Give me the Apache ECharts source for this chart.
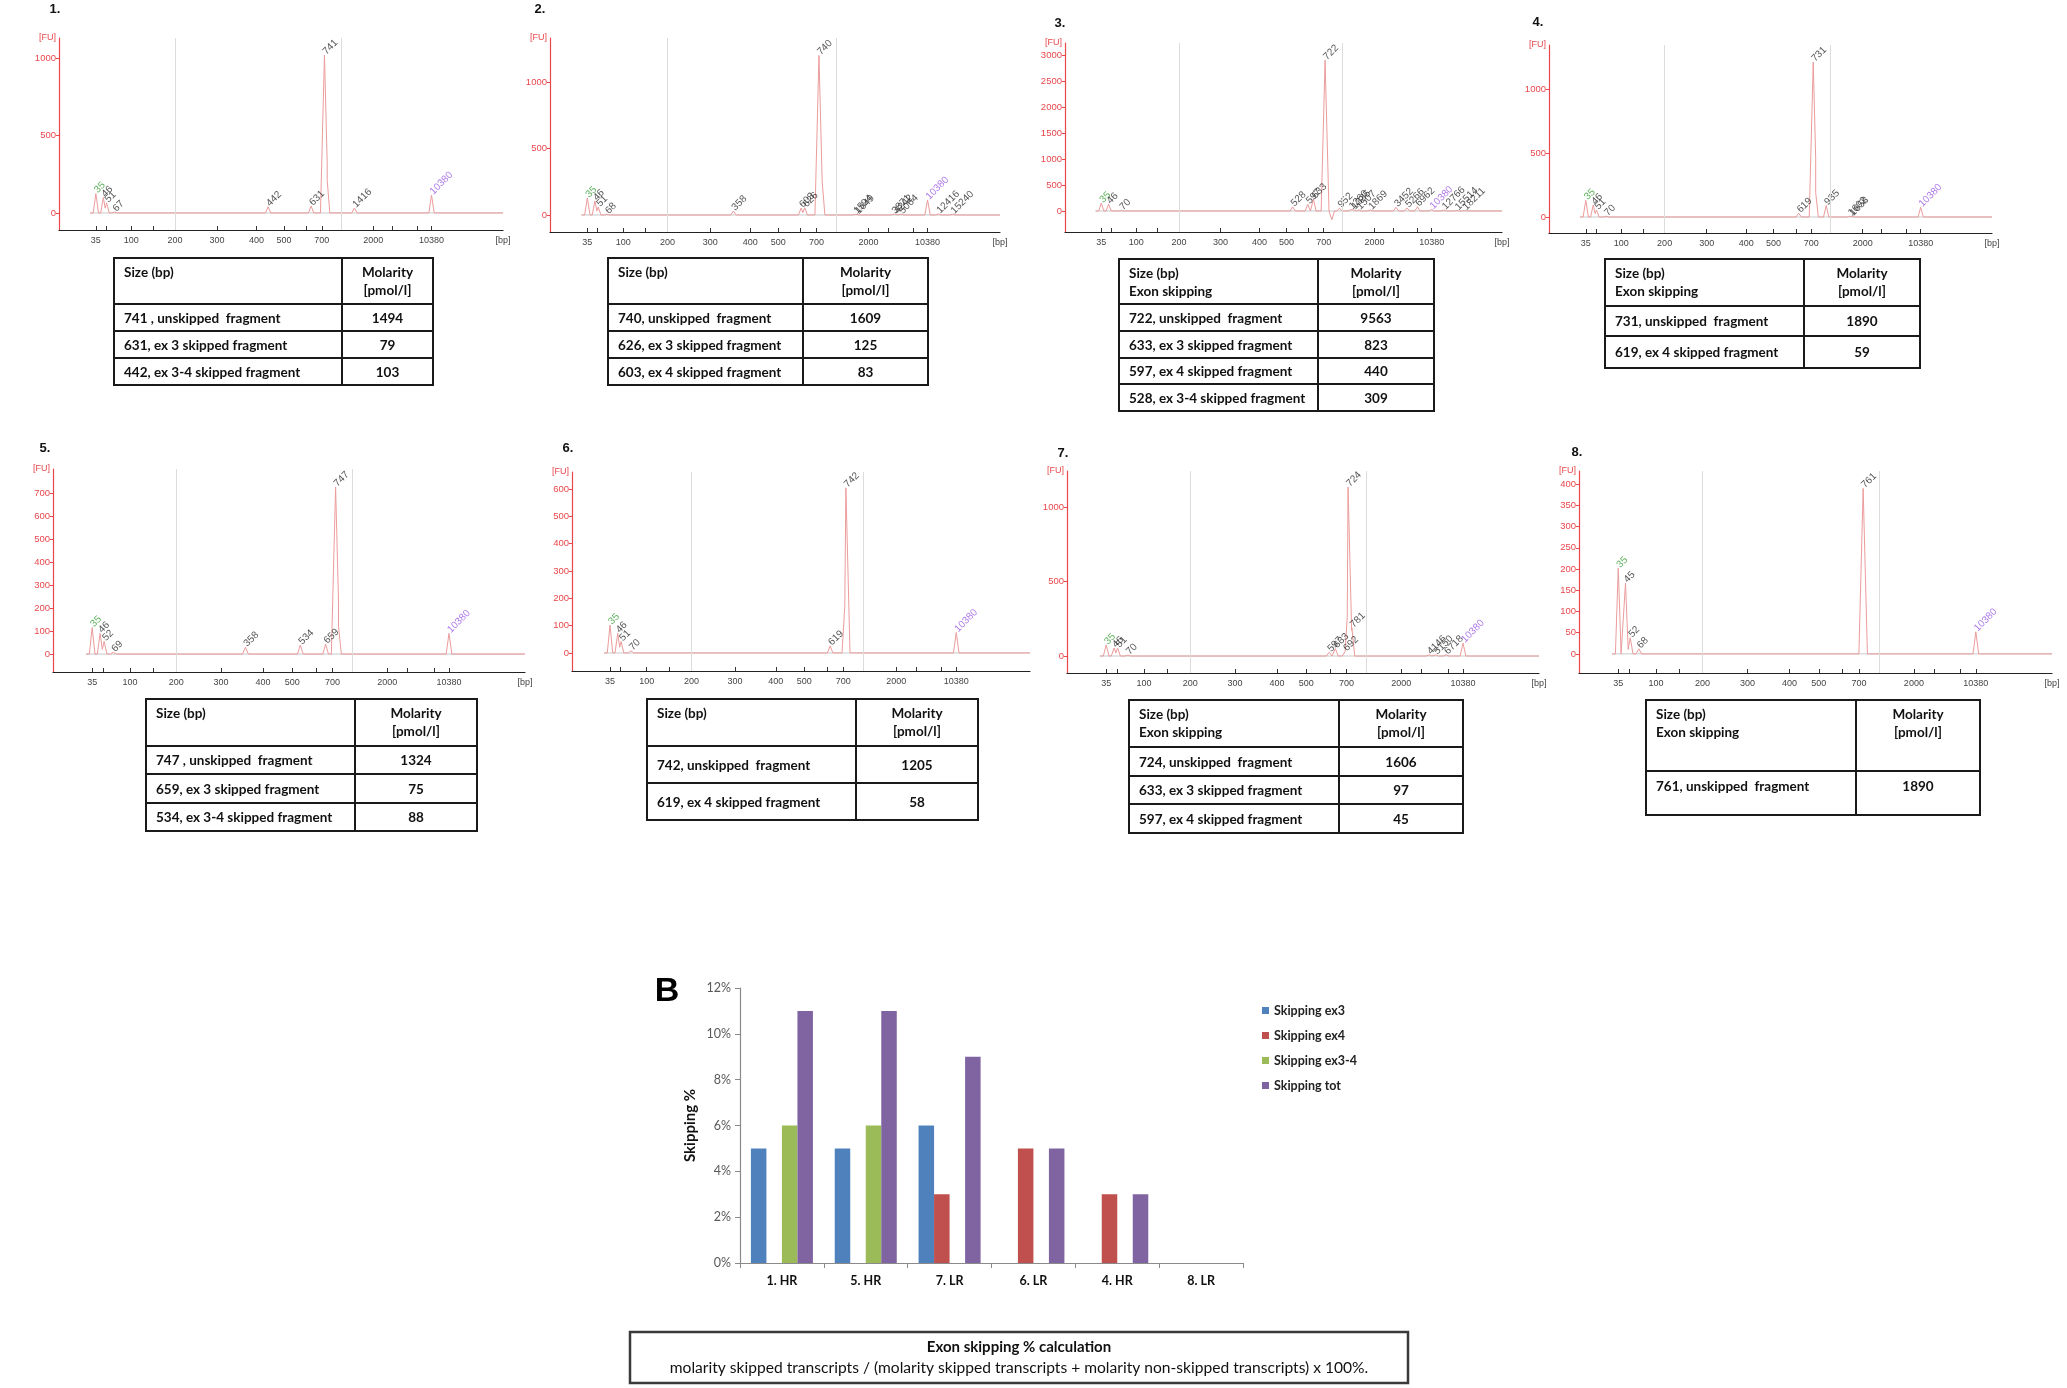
<!DOCTYPE html>
<html><head><meta charset="utf-8">
<script src="https://cdn.jsdelivr.net/npm/echarts@6/dist/echarts.min.js"></script>
<style>
html,body{margin:0;padding:0;background:#fff;}
#wrap{position:relative;width:2067px;height:1388px;overflow:hidden;}
#chart{position:absolute;left:0;top:0;width:2067px;height:1388px;}
.tbl{position:absolute;border-collapse:collapse;font-family:Lato,'Noto Sans',sans-serif;font-weight:bold;font-size:13.5px;color:#111;table-layout:fixed;}
.tbl td{border:2px solid #1a1a1a;padding:0 0 0 9px;white-space:pre;vertical-align:middle;line-height:16px;}
.tbl td.v{text-align:center;padding:0;}
.tbl tr.h td{vertical-align:top;padding-top:4px;line-height:18px;}
.tbl.top td{vertical-align:top;padding-top:6px;}
</style></head>
<body><div id="wrap"><div id="chart"></div></div>
<script>
// ---------- electropherogram ladder (size in bp -> migration position 0..100) ----------
const LADDER_BP  = [35, 50, 100, 150, 200, 300, 400, 500, 600, 700, 1000, 2000, 3000, 7000, 10380, 15000, 20000];
const LADDER_POS = [8.3, 10.6, 16.3, 21.2, 26.1, 35.6, 44.5, 50.7, 55.7, 59.2, 63.5, 70.8, 75.1, 80.7, 83.9, 89.3, 92.6];
const X_LABEL_BP = [35, 100, 200, 300, 400, 500, 700, 2000, 10380];
const X_TICK_BP  = [35, 50, 100, 150, 200, 300, 400, 500, 600, 700, 1000, 2000, 3000, 7000, 10380];
const X_GRID_BP  = [200, 1000];

// ---------- peaks: [size bp, height FU, label] ----------
const peaks1 = [[35,125,'35'],[46,100,'46'],[51,65,'51'],[67,6,'67'],[442,40,'442'],[631,45,'631'],[741,1020,'741'],[784,210,''],[1416,32,'1416'],[10380,116,'10380']];
const peaks2 = [[35,128,'35'],[46,105,'46'],[51,60,'51'],[68,6,'68'],[358,30,'358'],[603,52,'603'],[626,55,'626'],[740,1200,'740'],[790,250,''],[1594,5,'1594'],[1649,5,'1649'],[3871,6,'3871'],[4242,6,'4242'],[5064,6,'5064'],[10380,113,'10380'],[12416,8,'12416'],[15240,6,'15240']];
const peaks3 = [[35,150,'35'],[46,130,'46'],[70,10,'70'],[528,80,'528'],[597,130,'597'],[633,230,'633'],[722,2900,'722'],[830,-170,''],[952,55,'952'],[1260,25,'1260'],[1335,25,'1335'],[1507,20,'1507'],[1869,20,'1869'],[3452,70,'3452'],[5266,60,'5266'],[6962,80,'6962'],[10380,30,'10380'],[12766,20,'12766'],[15514,10,'15514'],[18211,10,'18211']];
const peaks4 = [[35,130,'35'],[46,94,'46'],[51,55,'51'],[70,6,'70'],[619,30,'619'],[731,1210,'731'],[770,190,''],[935,90,'935'],[1602,6,'1602'],[1658,6,'1658'],[10380,75,'10380']];
const peaks5 = [[35,115,'35'],[46,90,'46'],[52,55,'52'],[69,8,'69'],[358,30,'358'],[534,39,'534'],[659,43,'659'],[747,726,'747'],[790,120,''],[10380,90,'10380']];
const peaks6 = [[35,102,'35'],[46,72,'46'],[51,42,'51'],[70,8,'70'],[619,26,'619'],[725,170,''],[742,604,'742'],[10380,75,'10380']];
const peaks7 = [[35,74,'35'],[46,54,'46'],[51,54,'51'],[70,6,'70'],[597,25,'597'],[633,50,'633'],[692,30,'692'],[712,260,''],[724,1134,'724'],[781,188,'781'],[4146,8,'4146'],[5150,8,'5150'],[6718,8,'6718'],[10380,87,'10380']];
const peaks8 = [[35,202,'35'],[45,167,'45'],[52,38,'52'],[68,12,'68'],[761,390,'761'],[10380,52,'10380']];
const PEAKS = [peaks1, peaks2, peaks3, peaks4, peaks5, peaks6, peaks7, peaks8];

// y tick labels per panel
const yTicks1 = [0,500,1000];
const yTicks2 = [0,500,1000];
const yTicks3 = [0,500,1000,1500,2000,2500,3000];
const yTicks4 = [0,500,1000];
const yTicks5 = [0,100,200,300,400,500,600,700];
const yTicks6 = [0,100,200,300,400,500,600];
const yTicks7 = [0,500,1000];
const yTicks8 = [0,50,100,150,200,250,300,350,400];
const Y_TICKS = [yTicks1,yTicks2,yTicks3,yTicks4,yTicks5,yTicks6,yTicks7,yTicks8];

// ---------- tables ----------
const HEAD_SIZE = ['Size (bp)'];
const HEAD_SIZE_EXON = ['Size (bp)', 'Exon skipping'];
const HEAD_MOLARITY = ['Molarity', '[pmol/l]'];
const table1 = [['741 , unskipped  fragment','1494'],['631, ex 3 skipped fragment','79'],['442, ex 3-4 skipped fragment','103']];
const table2 = [['740, unskipped  fragment','1609'],['626, ex 3 skipped fragment','125'],['603, ex 4 skipped fragment','83']];
const table3 = [['722, unskipped  fragment','9563'],['633, ex 3 skipped fragment','823'],['597, ex 4 skipped fragment','440'],['528, ex 3-4 skipped fragment','309']];
const table4 = [['731, unskipped  fragment','1890'],['619, ex 4 skipped fragment','59']];
const table5 = [['747 , unskipped  fragment','1324'],['659, ex 3 skipped fragment','75'],['534, ex 3-4 skipped fragment','88']];
const table6 = [['742, unskipped  fragment','1205'],['619, ex 4 skipped fragment','58']];
const table7 = [['724, unskipped  fragment','1606'],['633, ex 3 skipped fragment','97'],['597, ex 4 skipped fragment','45']];
const table8 = [['761, unskipped  fragment','1890']];
const TABLES = [table1,table2,table3,table4,table5,table6,table7,table8];
const TABLE_HEADS = [HEAD_SIZE,HEAD_SIZE,HEAD_SIZE_EXON,HEAD_SIZE_EXON,HEAD_SIZE,HEAD_SIZE,HEAD_SIZE_EXON,HEAD_SIZE_EXON];

// ---------- bar chart B ----------
const CATS = ['1. HR','5. HR','7. LR','6. LR','4. HR','8. LR'];
const skipEx3  = [5, 5, 6, 0, 0, 0];
const skipEx4  = [0, 0, 3, 5, 3, 0];
const skipEx34 = [6, 6, 0, 0, 0, 0];
const skipTot  = [11, 11, 9, 5, 3, 0];
const Y_BAR_TICKS = [0, 2, 4, 6, 8, 10, 12];
const FORMULA_TITLE = 'Exon skipping % calculation';
const FORMULA_TEXT = 'molarity skipped transcripts / (molarity skipped transcripts + molarity non-skipped transcripts) x 100%.';

// ---------- layout (pixels) ----------
const PANEL_LAYOUT = [
  {l:59,  t:38,  w:444, h:192, ymin:-110, ymax:1130},
  {l:550, t:38,  w:450, h:194, ymin:-128, ymax:1331},
  {l:1065,t:43,  w:437, h:189, ymin:-404, ymax:3231},
  {l:1549,t:45,  w:443, h:188, ymin:-125, ymax:1344},
  {l:53,  t:469, w:472, h:203, ymin:-78,  ymax:804},
  {l:572, t:472, w:458, h:199, ymin:-66,  ymax:662},
  {l:1067,t:471, w:472, h:202, ymin:-114, ymax:1242},
  {l:1579,t:471, w:473, h:202, ymin:-45,  ymax:431}
];
const PANEL_NUM_POS = [[55,9],[540,9],[1060,23],[1538,22],[45,448],[568,448],[1063,453],[1577,452]];
const TABLE_BOX = [
  {l:113, t:257, c1:228, c2:91,  rh:[46,27,27,27]},
  {l:607, t:257, c1:195, c2:125, rh:[46,27,27,27]},
  {l:1118,t:258, c1:199, c2:116, rh:[45,27,27,26,27]},
  {l:1604,t:258, c1:199, c2:116, rh:[47,30,32]},
  {l:145, t:698, c1:209, c2:122, rh:[47,28,29,28]},
  {l:646, t:698, c1:209, c2:122, rh:[47,37,37]},
  {l:1128,t:699, c1:210, c2:124, rh:[47,29,28,29]},
  {l:1645,t:699, c1:210, c2:124, rh:[71,44], top:true}
];

// ---------- helpers ----------
function bpToPos(bp){
  const n = LADDER_BP.length;
  let i = 0;
  while (i < n - 2 && bp > LADDER_BP[i+1]) i++;
  const b0 = LADDER_BP[i], b1 = LADDER_BP[i+1], p0 = LADDER_POS[i], p1 = LADDER_POS[i+1];
  return p0 + (bp - b0) / (b1 - b0) * (p1 - p0);
}
function buildTrace(peaks){
  const pts = [[7,0]];
  let prev = null;
  peaks.forEach(p => {
    const x = bpToPos(p[0]), h = p[1], hw = Math.abs(h) >= 300 ? 0.9 : 0.6;
    if (prev && x - hw < prev.x + prev.hw) {
      pts.pop();
      const a = prev;
      let xi = (a.h - h + a.h*a.x/a.hw + h*x/hw) / (a.h/a.hw + h/hw);
      xi = Math.min(Math.max(xi, a.x), x);
      const yi = a.h * (1 - (xi - a.x) / a.hw);
      pts.push([xi, yi]);
    } else {
      pts.push([x - hw, 0]);
    }
    pts.push([x, h]);
    pts.push([x + hw, 0]);
    prev = {x, h, hw};
  });
  pts.push([100, 0]);
  return pts;
}
const labelPos = X_LABEL_BP.map(bpToPos);
function xLabel(v){
  if (Math.abs(v - 100) < 1e-6) return '[bp]';
  for (let i = 0; i < labelPos.length; i++) if (Math.abs(labelPos[i] - v) < 1e-6) return String(X_LABEL_BP[i]);
  return '';
}

// ---------- tables (HTML) ----------
const wrap = document.getElementById('wrap');
TABLE_BOX.forEach((B, i) => {
  const t = document.createElement('table');
  t.className = 'tbl' + (B.top ? ' top' : '');
  t.style.left = B.l + 'px'; t.style.top = B.t + 'px'; t.style.width = (B.c1 + B.c2) + 'px';
  let html = `<colgroup><col style="width:${B.c1}px"><col style="width:${B.c2}px"></colgroup>`;
  html += `<tr class="h" style="height:${B.rh[0]}px"><td>${TABLE_HEADS[i].join('<br>')}</td><td class="v">${HEAD_MOLARITY.join('<br>')}</td></tr>`;
  TABLES[i].forEach((r, j) => {
    html += `<tr style="height:${B.rh[j+1]}px"><td>${r[0]}</td><td class="v">${r[1]}</td></tr>`;
  });
  t.innerHTML = html;
  wrap.appendChild(t);
});

// ---------- chart option ----------
const RED = '#e8474c';
const EF = '"Liberation Sans", Arial, sans-serif';
const LF = 'Lato, "Noto Sans", sans-serif';
const grids = [], xAxes = [], yAxes = [], series = [];
PANEL_LAYOUT.forEach((P, i) => {
  grids.push({left:P.l, top:P.t, width:P.w, height:P.h, containLabel:false, outerBoundsMode:'none'});
  xAxes.push({
    type:'value', gridIndex:i, min:0, max:100,
    axisLine:{show:true, onZero:false, lineStyle:{color:'#222', width:1.2}},
    axisTick:{show:true, inside:true, length:4, customValues:X_TICK_BP.map(bpToPos), lineStyle:{color:'#333'}},
    axisLabel:{show:true, customValues:labelPos.concat(i === 5 ? [] : [100]), formatter:xLabel, fontSize:9, color:'#444', margin:6, fontFamily:EF},
    splitLine:{show:false}
  });
  yAxes.push({
    type:'value', gridIndex:i, min:P.ymin, max:P.ymax,
    name:'[FU]', nameLocation:'end', nameGap:0,
    nameTextStyle:{color:RED, fontSize:9, align:'right', verticalAlign:'middle', padding:[0,3,0,0], fontFamily:EF},
    axisLine:{show:true, onZero:false, lineStyle:{color:RED, width:1.2}},
    axisTick:{show:true, length:3, customValues:Y_TICKS[i], lineStyle:{color:RED}},
    axisLabel:{show:true, customValues:Y_TICKS[i], formatter:v => String(v), color:RED, fontSize:9.5, margin:3, fontFamily:EF},
    splitLine:{show:false}
  });
  series.push({
    type:'line', xAxisIndex:i, yAxisIndex:i, data:[[7,0],[100,0]], symbol:'none', silent:true, z:2,
    lineStyle:{color:'rgba(130,130,130,0.55)', width:0.8}
  });
  series.push({
    type:'line', xAxisIndex:i, yAxisIndex:i, data:buildTrace(PEAKS[i]), symbol:'none', showSymbol:false, silent:true, z:3,
    lineStyle:{color:'#ec9c9c', width:1},
    markLine:{silent:true, symbol:'none', label:{show:false}, lineStyle:{color:'#dcdcdc', width:1, type:'solid'},
      data:X_GRID_BP.map(b => ({xAxis:bpToPos(b)}))}
  });
  series.push({
    type:'scatter', xAxisIndex:i, yAxisIndex:i, symbol:'circle', symbolSize:2, silent:true, z:4,
    itemStyle:{color:'rgba(0,0,0,0)'},
    labelLayout:{hideOverlap:false},
    data:PEAKS[i].filter(p => p[2]).map(p => ({
      name:p[2], value:[bpToPos(p[0]), Math.max(p[1], 0)],
      label:{color: p[2] === '35' ? '#3a9d3a' : (p[2] === '10380' ? '#9a57e4' : '#2a2a2a')}
    })),
    label:{show:true, formatter:'{b}', position:'top', distance:1, rotate:45, align:'left', verticalAlign:'middle', fontSize:10, fontFamily:EF}
  });
});

// bar chart grid
const BI = 8;
grids.push({left:740, top:988, width:503, height:275, containLabel:false, outerBoundsMode:'none'});
xAxes.push({
  type:'category', gridIndex:BI, data:CATS,
  axisLine:{show:true, lineStyle:{color:'#8a8a8a', width:1.2}},
  axisTick:{show:true, length:5, lineStyle:{color:'#8a8a8a'}},
  axisLabel:{fontFamily:LF, fontWeight:'bold', fontSize:12.5, color:'#111', margin:11},
  splitLine:{show:false}
});
yAxes.push({
  type:'value', gridIndex:BI, min:0, max:12, interval:2,
  name:'Skipping %', nameLocation:'middle', nameGap:42, nameRotate:90,
  nameTextStyle:{fontFamily:LF, fontWeight:'bold', fontSize:15, color:'#111'},
  axisLine:{show:true, lineStyle:{color:'#8a8a8a', width:1.2}},
  axisTick:{show:true, length:5, lineStyle:{color:'#8a8a8a'}},
  axisLabel:{customValues:Y_BAR_TICKS, formatter:'{value}%', fontFamily:LF, fontSize:12.5, color:'#595959', margin:9},
  splitLine:{show:false}
});
const BAR_SERIES = [['Skipping ex3', skipEx3, '#4f81bd'], ['Skipping ex4', skipEx4, '#c0504d'], ['Skipping ex3-4', skipEx34, '#9bbb59'], ['Skipping tot', skipTot, '#8064a2']];
BAR_SERIES.forEach(s => series.push({
  type:'bar', name:s[0], xAxisIndex:BI, yAxisIndex:BI, data:s[1], barGap:'0%', barCategoryGap:'26%',
  itemStyle:{color:s[2]}, silent:true
}));

const graphic = [];
PANEL_NUM_POS.forEach((p, i) => graphic.push({type:'text', x:p[0], y:p[1], silent:true,
  style:{text:(i+1)+'.', font:'bold 13px "Liberation Sans", Arial', fill:'#111', align:'center', verticalAlign:'middle'}}));
graphic.push({type:'text', x:667, y:992, silent:true, style:{text:'B', font:'bold 34px "Liberation Sans", Arial', fill:'#000', align:'center', verticalAlign:'middle'}});
graphic.push({type:'rect', silent:true, shape:{x:630, y:1332, width:778, height:51}, style:{fill:'none', stroke:'#3a3a3a', lineWidth:2.5}});
graphic.push({type:'text', x:1019, y:1347, silent:true, style:{text:FORMULA_TITLE, font:'bold 15px Lato, "Noto Sans"', fill:'#111', align:'center', verticalAlign:'middle'}});
graphic.push({type:'text', x:1019, y:1368, silent:true, style:{text:FORMULA_TEXT, font:'15.6px Lato, "Noto Sans"', fill:'#111', align:'center', verticalAlign:'middle'}});

const option = {
  animation:false,
  backgroundColor:'#fff',
  grid:grids, xAxis:xAxes, yAxis:yAxes, series:series, graphic:graphic,
  legend:{
    data:BAR_SERIES.map(s => s[0]), orient:'vertical', left:1257, top:999,
    itemWidth:7, itemHeight:7, itemGap:12, icon:'rect', selectedMode:false,
    textStyle:{fontFamily:LF, fontWeight:'bold', fontSize:12.5, color:'#222'}
  }
};
const chart = echarts.init(document.getElementById('chart'), null, {renderer:'canvas'});
chart.setOption(option);
</script></body></html>
